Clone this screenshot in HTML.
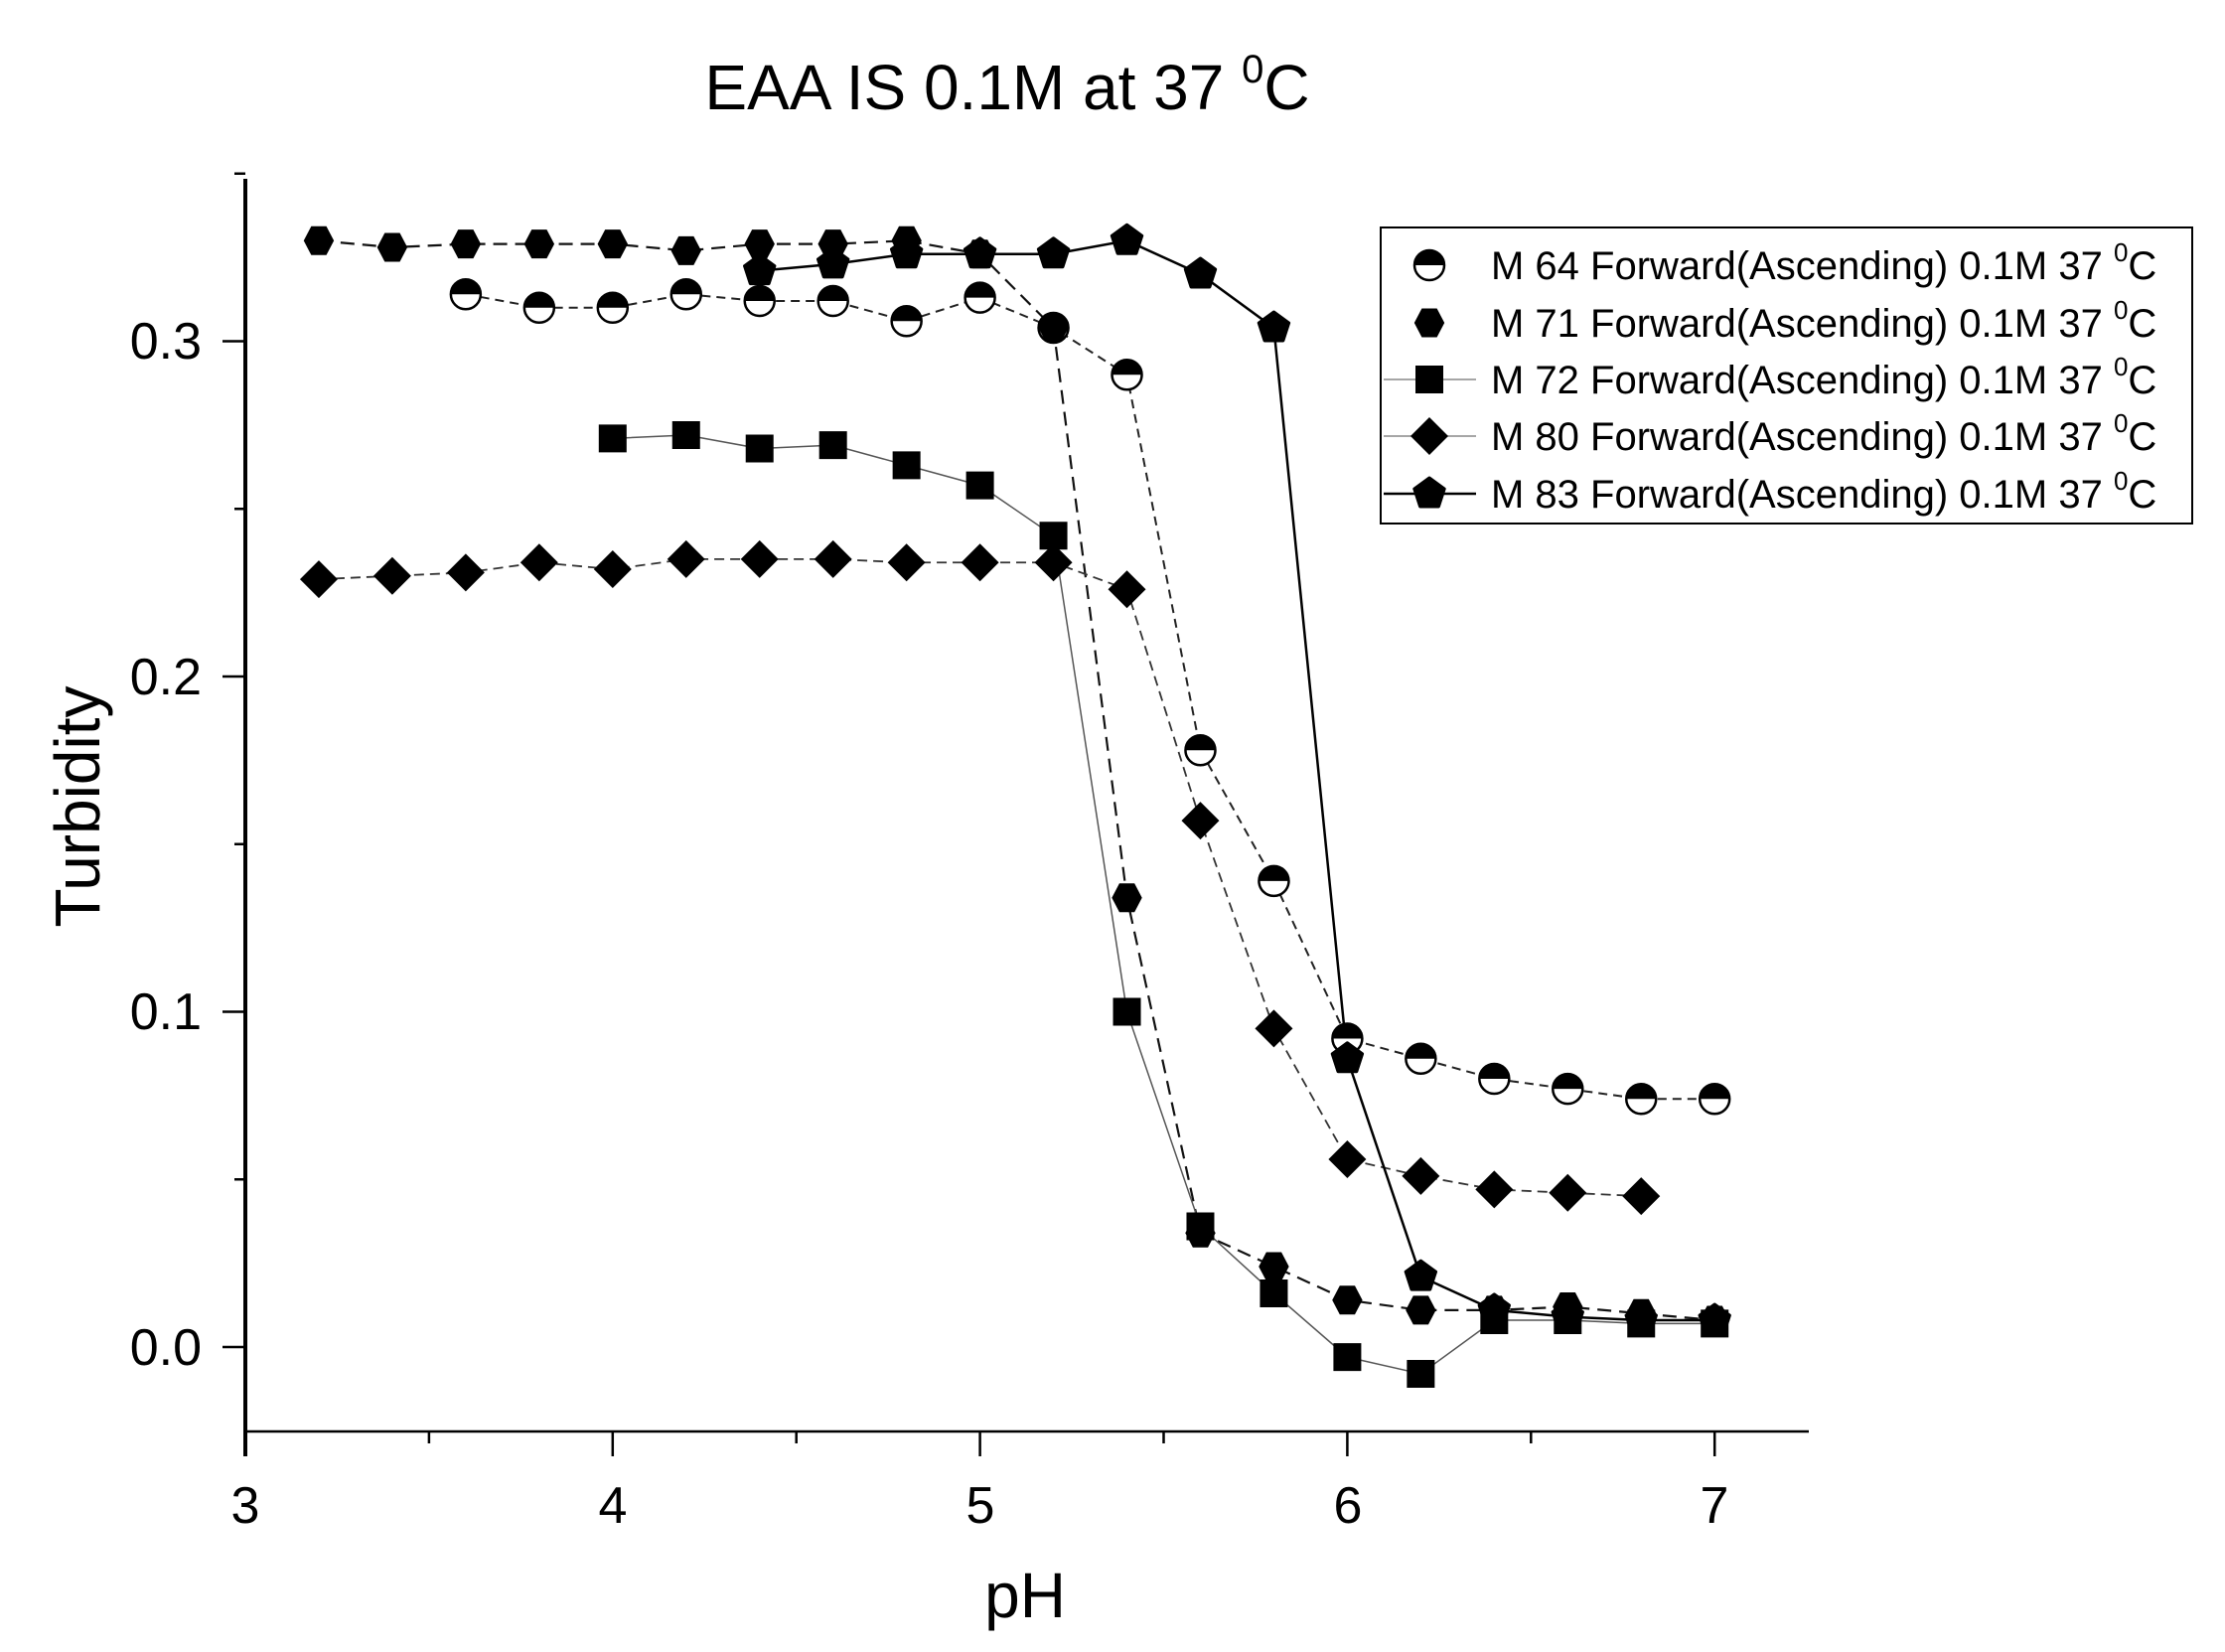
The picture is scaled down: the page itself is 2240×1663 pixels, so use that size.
<!DOCTYPE html>
<html><head><meta charset="utf-8"><style>
html,body{margin:0;padding:0;background:#fff;}
svg{display:block;font-family:"Liberation Sans",sans-serif;}
</style></head><body>
<svg id="s" width="2240" height="1663" viewBox="0 0 2240 1663" xmlns="http://www.w3.org/2000/svg">
<rect width="2240" height="1663" fill="#fff"/>
<text x="1014" y="110" font-size="64" text-anchor="middle">EAA IS 0.1M at 37 <tspan font-size="40" dy="-27">0</tspan><tspan dy="27">C</tspan></text>
<g id="axes" stroke="#000" fill="none"></g>
<g font-size="52" text-anchor="end">
<text x="203" y="1374">0.0</text>
<text x="203" y="1036">0.1</text>
<text x="203" y="699">0.2</text>
<text x="203" y="361">0.3</text>
</g>
<g font-size="52" text-anchor="middle">
<text x="247" y="1533">3</text>
<text x="617" y="1533">4</text>
<text x="987" y="1533">5</text>
<text x="1357" y="1533">6</text>
<text x="1726" y="1533">7</text>
</g>
<text x="1032" y="1628" font-size="64" text-anchor="middle">pH</text>
<text transform="translate(100,812) rotate(-90)" font-size="64" text-anchor="middle">Turbidity</text>
<g id="plot"></g>
<rect x="1390" y="229" width="817" height="298" fill="none" stroke="#000" stroke-width="2"/>
<g font-size="40">
<text x="1501" y="281">M 64 Forward(Ascending) 0.1M 37 <tspan font-size="26" dy="-18">0</tspan><tspan dy="18">C</tspan></text>
<text x="1501" y="339">M 71 Forward(Ascending) 0.1M 37 <tspan font-size="26" dy="-18">0</tspan><tspan dy="18">C</tspan></text>
<text x="1501" y="396">M 72 Forward(Ascending) 0.1M 37 <tspan font-size="26" dy="-18">0</tspan><tspan dy="18">C</tspan></text>
<text x="1501" y="453">M 80 Forward(Ascending) 0.1M 37 <tspan font-size="26" dy="-18">0</tspan><tspan dy="18">C</tspan></text>
<text x="1501" y="511">M 83 Forward(Ascending) 0.1M 37 <tspan font-size="26" dy="-18">0</tspan><tspan dy="18">C</tspan></text>
</g>
<g id="leg"></g>
</svg>
<script>
var NS="http://www.w3.org/2000/svg";
function el(p,t,a){var e=document.createElementNS(NS,t);for(var k in a)e.setAttribute(k,a[k]);p.appendChild(e);return e;}
var X=function(v){return 247+(v-3)*369.8;}, Y=function(v){return 1356-v*3375;};
var ax=document.getElementById('axes');
el(ax,'line',{x1:247,y1:180,x2:247,y2:1466,'stroke-width':4});
el(ax,'line',{x1:245,y1:1441,x2:1821,y2:1441,'stroke-width':2.5});
for(var i=0;i<=8;i++){var x=X(3+i*0.5);el(ax,'line',{x1:x,y1:1441,x2:x,y2:i%2?1453:1466,'stroke-width':2.5});}
for(var j=0;j<=7;j++){var y=Y(j*0.05);el(ax,'line',{x1:247,y1:y,x2:j%2?236:224,y2:y,'stroke-width':2.5});}
function pts(start,vals){return vals.map(function(v,i){return [X(start+i*0.2),Y(v)];});}
var S=[
 {m:'half',d:'9,6',w:2,c:'#222',p:pts(3.6,[0.314,0.310,0.310,0.314,0.312,0.312,0.306,0.313,0.304,0.290,0.178,0.139,0.092,0.086,0.080,0.077,0.074,0.074])},
 {m:'hex',d:'14,8',w:2.2,c:'#111',p:pts(3.2,[0.330,0.328,0.329,0.329,0.329,0.327,0.329,0.329,0.330,0.326,0.304,0.134,0.034,0.024,0.014,0.011,0.011,0.012,0.010,0.008])},
 {m:'sq',d:'',w:1.5,c:'#555',p:pts(4.0,[0.271,0.272,0.268,0.269,0.263,0.257,0.242,0.100,0.036,0.016,-0.003,-0.008,0.008,0.008,0.007,0.007])},
 {m:'dia',d:'10,6',w:1.8,c:'#333',p:pts(3.2,[0.229,0.230,0.231,0.234,0.232,0.235,0.235,0.235,0.234,0.234,0.234,0.226,0.157,0.095,0.056,0.051,0.047,0.046,0.045])},
 {m:'pent',d:'',w:2.5,c:'#000',p:pts(4.4,[0.321,0.323,0.326,0.326,0.326,0.330,0.320,0.304,0.086,0.021,0.011,0.009,0.008,0.008])}
];
var pl=document.getElementById('plot');
function marker(g,m,x,y){
 var r=16;
 if(m=='half'){el(g,'circle',{cx:x,cy:y,r:r-1,fill:'#fff',stroke:'#000','stroke-width':2.5});
  el(g,'path',{d:'M'+(x-r+1)+','+y+' A'+(r-1)+','+(r-1)+' 0 0 1 '+(x+r-1)+','+y+' Z',fill:'#000'});}
 else if(m=='hex'){var a=[];for(var k=0;k<6;k++){var t=Math.PI/3*k;a.push((x+r*Math.cos(t)*0.95)+','+(y+r*Math.sin(t)*1.05));}el(g,'polygon',{points:a.join(' '),fill:'#000'});}
 else if(m=='sq'){el(g,'rect',{x:x-14,y:y-14,width:28,height:28,fill:'#000'});}
 else if(m=='dia'){el(g,'polygon',{points:x+','+(y-19)+' '+(x+19)+','+y+' '+x+','+(y+19)+' '+(x-19)+','+y,fill:'#000'});}
 else {var a=[];for(var k=0;k<5;k++){var t=-Math.PI/2+2*Math.PI/5*k;a.push((x+16*Math.cos(t))+','+(y+16*Math.sin(t)));}el(g,'polygon',{points:a.join(' '),fill:'#000',stroke:'#000','stroke-width':3,'stroke-linejoin':'round'});}
}
S.forEach(function(s){
 var a={points:s.p.map(function(q){return q.join(',');}).join(' '),fill:'none',stroke:s.c,'stroke-width':s.w};
 if(s.d)a['stroke-dasharray']=s.d;
 el(pl,'polyline',a);
});
S.forEach(function(s){s.p.forEach(function(q){marker(pl,s.m,q[0],q[1]);});});
var lg=document.getElementById('leg');var ly=[267,325,382,439,497];
S.forEach(function(s,i){
 if(i>=2)el(lg,'line',{x1:1393,y1:ly[i],x2:1486,y2:ly[i],stroke:i==4?'#000':'#888','stroke-width':i==4?2.5:1.5});
 marker(lg,s.m,1439,ly[i]);
});
</script>
</body></html>
